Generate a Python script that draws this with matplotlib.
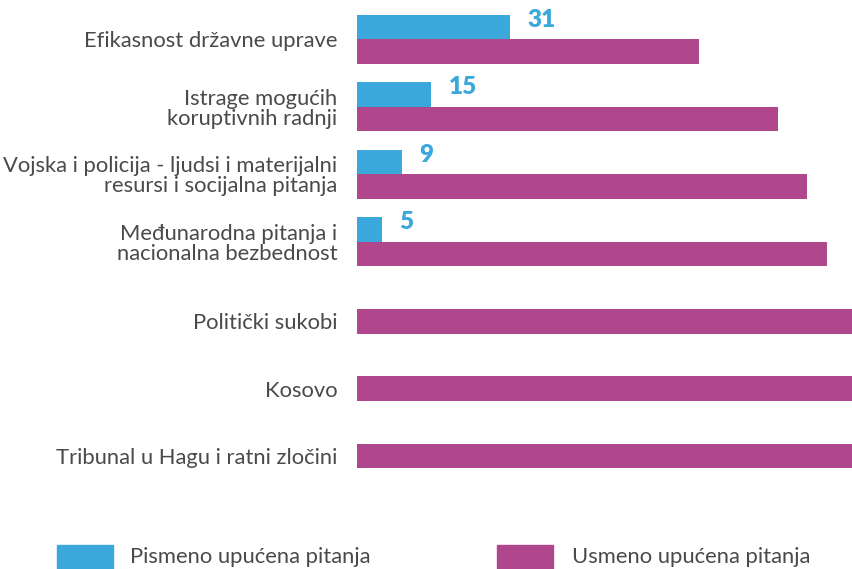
import matplotlib
matplotlib.use("Agg")
import matplotlib.pyplot as plt
from matplotlib.patches import Rectangle
import numpy as np

plt.rcParams['font.family'] = ['Lato', 'DejaVu Sans']

categories = [
    "Efikasnost državne uprave",
    "Istrage mogućih\nkoruptivnih radnji",
    "Vojska i policija - ljudsi i materijalni\nresursi i socijalna pitanja",
    "Međunarodna pitanja i\nnacionalna bezbednost",
    "Politički sukobi",
    "Kosovo",
    "Tribunal u Hagu i ratni zločini",
]
pismeno = [31, 15, 9, 5, 0, 0, 0]
usmeno = [69, 85, 91, 95, 100, 100, 100]
series_names = ["Pismeno upućena pitanja", "Usmeno upućena pitanja"]

BLUE = "#3aa8db"
PURPLE = "#b0468c"
GRAY = "#4a4a4a"
BAR_H = 0.365
FS = 15.8

fig = plt.figure(figsize=(8.52, 5.69), dpi=100)
ax = fig.add_axes([357 / 852, 1 - 477.5 / 569, 1 - 357 / 852, (477.5 - 5.8) / 569])

y = np.arange(len(categories))
ax.barh(y - BAR_H / 2, pismeno, height=BAR_H, color=BLUE)
ax.barh(y + BAR_H / 2, usmeno, height=BAR_H, color=PURPLE)

ax.set_xlim(0, 100)
ax.set_ylim(len(categories) - 0.5, -0.5)

# label sits on the group centre, or on the purple bar when there is no blue one
tick_pos = [yy if p > 0 else yy + BAR_H / 2 for yy, p in zip(y, pismeno)]
ax.set_yticks(tick_pos)
ax.set_yticklabels(categories, fontsize=FS, color=GRAY, linespacing=1.0)
ax.tick_params(axis="y", length=0, pad=14)
ax.set_xticks([])
for s in ax.spines.values():
    s.set_visible(False)

for yy, v in zip(y, pismeno):
    if v > 0:
        ax.text(v + 3.5, yy - 0.29, str(v), color=BLUE, fontsize=17.5,
                fontweight="heavy", va="center", ha="left")

# legend drawn by hand, boxes run off the bottom edge like the original
for x0, col, name, tx in [(57, BLUE, series_names[0], 130), (497, PURPLE, series_names[1], 572)]:
    fig.patches.append(Rectangle((x0 / 852, -0.02), 56 / 852, (569 - 545) / 569 + 0.02,
                                 transform=fig.transFigure, color=col))
    fig.text(tx / 852, 1 - 557 / 569, name, fontsize=FS, color=GRAY, va="center", ha="left")

fig.savefig("out.png", dpi=100)
